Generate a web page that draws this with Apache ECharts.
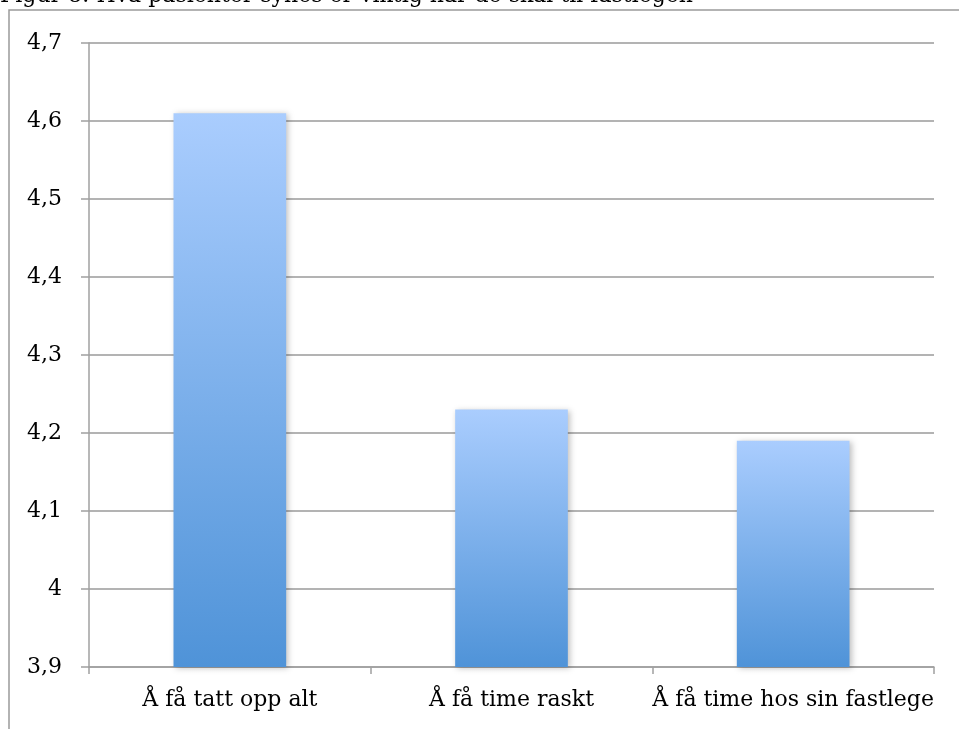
<!DOCTYPE html>
<html>
<head>
<meta charset="utf-8">
<script src="https://cdn.jsdelivr.net/npm/echarts@6/dist/echarts.min.js"></script>
<style>
  html, body { margin: 0; padding: 0; background: #fff; }
  #chart { width: 959px; height: 729px; }
</style>
</head>
<body>
<div id="chart"></div>
<script>
// Mean importance scores per item
const categories = ['Å få tatt opp alt', 'Å få time raskt', 'Å få time hos sin fastlege'];
const scores = [4.61, 4.23, 4.19];
const titleText = 'Figur 8: Hva pasienter synes er viktig når de skal til fastlegen';

const serif = 'DejaVu Serif';
const chart = echarts.init(document.getElementById('chart'));

chart.setOption({
  animation: false,
  backgroundColor: '#ffffff',
  graphic: [
    {
      type: 'text', left: 0, top: -15,
      style: { text: titleText, fontFamily: serif, fontSize: 22, fill: '#000' }
    },
    {
      type: 'polyline', silent: true,
      shape: { points: [[9, 740], [9, 10], [970, 10]] },
      style: { stroke: '#9a9a9a', lineWidth: 1.5, fill: null }
    }
  ],
  grid: { left: 89, right: 25, top: 43, bottom: 62 },
  xAxis: {
    type: 'category',
    data: categories,
    axisLine: { lineStyle: { color: '#a0a0a0', width: 1.5 } },
    axisTick: { show: true, length: 7, lineStyle: { color: '#a0a0a0', width: 1.5 } },
    axisLabel: { interval: 0, color: '#000', fontFamily: serif, fontSize: 22, margin: 22 }
  },
  yAxis: {
    type: 'value',
    min: 3.9, max: 4.7, interval: 0.1,
    axisLine: { show: true, lineStyle: { color: '#a0a0a0', width: 1.5 } },
    axisTick: { show: true, length: 8, lineStyle: { color: '#a0a0a0', width: 1.5 } },
    splitLine: { lineStyle: { color: '#9a9a9a', width: 1.5 } },
    axisLabel: {
      color: '#000', fontFamily: serif, fontSize: 22, margin: 27,
      formatter: v => String(Math.round(v * 10) / 10).replace('.', ',')
    }
  },
  series: [{
    type: 'bar',
    data: scores,
    barWidth: '40%',
    itemStyle: {
      color: new echarts.graphic.LinearGradient(0, 0, 0, 1, [
        { offset: 0, color: '#aacdfe' },
        { offset: 1, color: '#4f93d8' }
      ]),
      shadowColor: 'rgba(0,0,0,0.25)',
      shadowBlur: 6,
      shadowOffsetX: 2,
      shadowOffsetY: 1
    }
  }]
});
</script>
</body>
</html>
